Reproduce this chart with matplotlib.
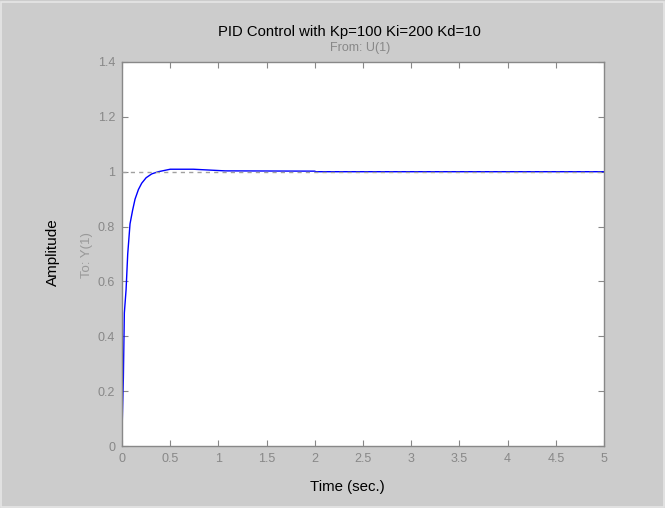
import numpy as np
import matplotlib
matplotlib.use('Agg')
import matplotlib.pyplot as plt
from matplotlib.patches import Rectangle

# step response
t = [0, 0.003, 0.014, 0.024, 0.042, 0.059, 0.083, 0.11, 0.135, 0.17, 0.204,
     0.25, 0.308, 0.377, 0.5, 0.74, 1.07, 2.0, 2.01, 5.0]
y = [0, 0.095, 0.25, 0.485, 0.57, 0.70, 0.81, 0.86, 0.90, 0.935, 0.958,
     0.978, 0.992, 1.0, 1.009, 1.009, 1.003, 1.002, 1.0, 1.0]

x_ticks = [0, 0.5, 1, 1.5, 2, 2.5, 3, 3.5, 4, 4.5, 5]
x_labels = ['0', '0.5', '1', '1.5', '2', '2.5', '3', '3.5', '4', '4.5', '5']
y_ticks = [0, 0.2, 0.4, 0.6, 0.8, 1.0, 1.2, 1.4]
y_labels = ['0', '0.2', '0.4', '0.6', '0.8', '1', '1.2', '1.4']
steady = 1.0

plt.rcParams['font.family'] = ['Liberation Sans', 'DejaVu Sans']
bg = '#cccccc'
grey = '#888888'

fig = plt.figure(figsize=(6.65, 5.08), dpi=100, facecolor=bg)
fig.patches.append(Rectangle((0.002, 0.002), 0.996, 0.994, transform=fig.transFigure,
                             fill=False, edgecolor='#e6e6e6', linewidth=1.2))
ax = fig.add_axes([0.1835, 0.122, 0.7248, 0.756])
ax.set_facecolor('white')

ax.plot(t, y, color='#0000ff', linewidth=1.0, zorder=2)
ax.axhline(steady, color='#a0a0a0', linewidth=1.0, linestyle=(0, (3, 3)), zorder=3)

ax.set_xlim(0, 5)
ax.set_ylim(0, 1.4)
ax.set_xticks(x_ticks)
ax.set_xticklabels(x_labels)
ax.set_yticks(y_ticks)
ax.set_yticklabels(y_labels)
ax.tick_params(direction='in', length=4, width=0.8, color=grey, labelcolor=grey,
               labelsize=9, top=True, right=True, pad=5)
for s in ax.spines.values():
    s.set_color(grey)
    s.set_linewidth(1.0)

fig.text(0.526, 0.937, 'PID Control with Kp=100 Ki=200 Kd=10', ha='center', va='center',
         fontsize=10.7, color='black')
fig.text(0.542, 0.906, 'From: U(1)', ha='center', va='center', fontsize=9, color='#888888')
fig.text(0.080, 0.504, 'Amplitude', ha='center', va='center', rotation=90,
         fontsize=11, color='black')
fig.text(0.131, 0.498, 'To: Y(1)', ha='center', va='center', rotation=90,
         fontsize=9.5, color='#999999')
fig.text(0.522, 0.041, 'Time (sec.)', ha='center', va='center', fontsize=10.8, color='black')

plt.savefig('out.png', dpi=100, facecolor=bg)
